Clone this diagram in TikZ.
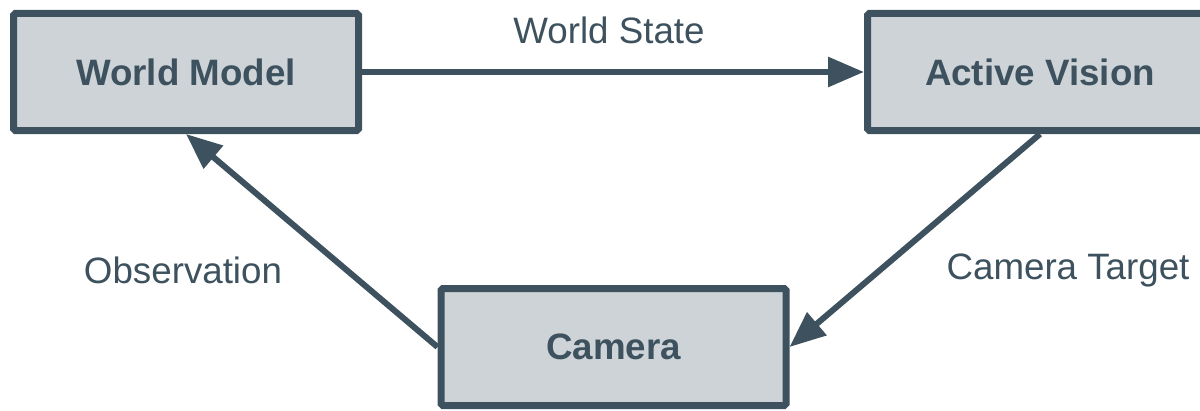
\documentclass[tikz,border=0pt]{standalone}
\usepackage{fontspec}
\setmainfont{Liberation Sans}
\usetikzlibrary{arrows.meta}

\definecolor{boxedge}{RGB}{61, 82, 94}
\definecolor{boxfill}{RGB}{205, 211, 214}

\begin{document}
\begin{tikzpicture}[font=\fontsize{20.9}{25}\selectfont, text=boxedge,
    stagebox/.style={draw=boxedge, fill=boxfill, line width=0.14cm, rounded corners=1pt,
      minimum width=6.9cm, minimum height=2.34cm, font=\fontsize{20.9}{25}\selectfont\bfseries},
    flow/.style={draw=boxedge, line width=0.12cm, -{Triangle[length=0.72cm, width=0.58cm]}}]
        \def\W{24}
        \def\H{8.2}
        \useasboundingbox (0,0) rectangle (\W,-\H);

        % Boxes
        \node[stagebox] (world) at (3.72,-1.44) {World Model};
        \node[stagebox] (active) at (20.8,-1.44) {Active Vision};
        \node[stagebox] (camera) at (12.27,-6.94) {Camera};

        % Arrows
        \draw[flow] (world.east) -- (active.west);
        \draw[flow] (active.south) -- (camera.east);
        \draw[flow] (camera.west) -- (world.south);

        % Arrow labels
        \node (lstate) at (12.18,-0.6) {World State};
        \node (lobs) at (3.66,-5.4) {Observation};
        \node (ltarget) at (21.36,-5.4) {Camera Target};
      \end{tikzpicture}
\end{document}
